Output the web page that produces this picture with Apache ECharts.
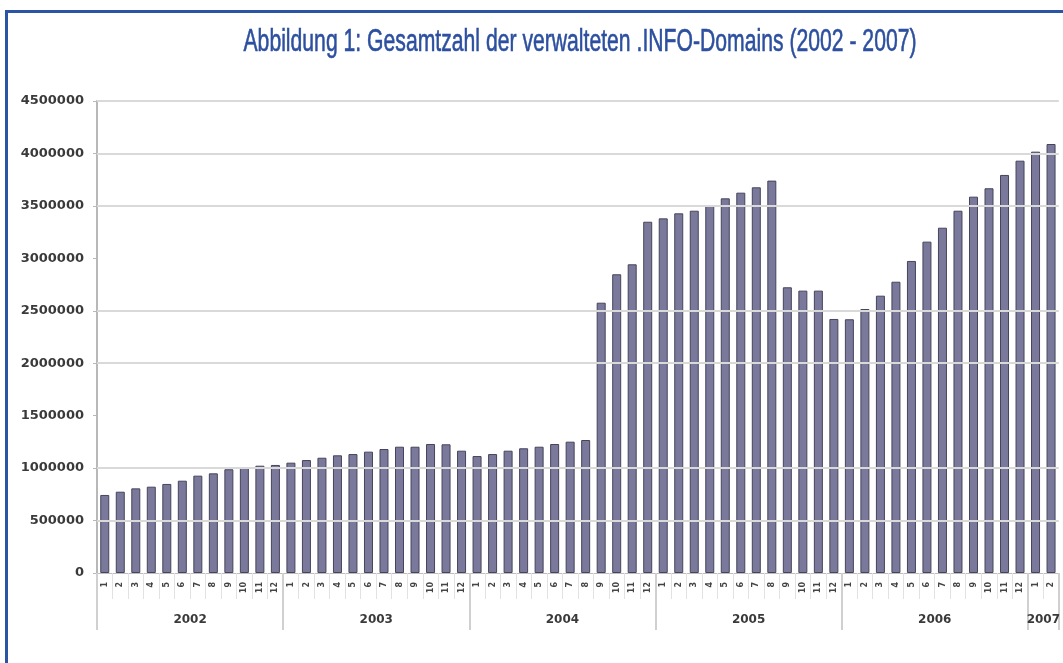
<!DOCTYPE html>
<html>
<head>
<meta charset="utf-8">
<script src="https://cdn.jsdelivr.net/npm/echarts@6/dist/echarts.min.js"></script>
<style>
  html, body { margin: 0; padding: 0; background: #ffffff; }
  #wrap { position: relative; width: 1063px; height: 663px; overflow: hidden; }
  #chart { position: absolute; left: 0; top: 0; width: 1063px; height: 663px; }
  #frame { position: absolute; left: 5px; top: 10px; width: 1100px; height: 700px;
           border-top: 3px solid #2b55a4; border-left: 3px solid #2b55a4; pointer-events: none; }
</style>
</head>
<body>
<div id="wrap">
  <div id="chart"></div>
  <div id="frame"></div>
</div>
<script>
// ---- data ----
const titleText = 'Abbildung 1: Gesamtzahl der verwalteten .INFO-Domains (2002 - 2007)';
const years = ['2002', '2003', '2004', '2005', '2006', '2007'];
const monthsPerYear = [12, 12, 12, 12, 12, 2];
const monthNames = ['1', '2', '3', '4', '5', '6', '7', '8', '9', '10', '11', '12'];
// horizontal gridlines visible in the reference (no line at 1500000 or 3000000)
const gridValues = [500000, 1000000, 2000000, 2500000, 3500000, 4000000, 4500000];
const values2002 = [744000, 775000, 807000, 823000, 849000, 880000, 928000, 950000, 989000, 1004000, 1023000, 1030000];
const values2003 = [1052000, 1077000, 1099000, 1122000, 1134000, 1157000, 1182000, 1204000, 1204000, 1230000, 1227000, 1166000];
const values2004 = [1115000, 1134000, 1166000, 1189000, 1204000, 1230000, 1252000, 1268000, 2577000, 2848000, 2943000, 3349000];
const values2005 = [3381000, 3429000, 3454000, 3502000, 3572000, 3626000, 3677000, 3741000, 2724000, 2692000, 2692000, 2422000];
const values2006 = [2419000, 2517000, 2644000, 2777000, 2975000, 3159000, 3292000, 3454000, 3588000, 3668000, 3795000, 3931000];
const values2007 = [4017000, 4090000];

// ---- build categories ----
const monthCats = [];
const yearCats = [];
years.forEach((y, yi) => {
  for (let m = 0; m < monthsPerYear[yi]; m++) {
    monthCats.push(monthNames[m]);
    yearCats.push(y);
  }
});
const values = [].concat(values2002, values2003, values2004, values2005, values2006, values2007);

const yearStart = [];
let acc = 0;
monthsPerYear.forEach(n => { yearStart.push(acc); acc += n; });
const yearLabelIdx = new Set(yearStart.map((s, i) => s + monthsPerYear[i] / 2 - 1));
const yearStartIdx = new Set(yearStart);

// measure title to fit a condensed look
const mc = document.createElement('canvas').getContext('2d');
const titleFont = '31px "Liberation Sans Narrow", "Liberation Sans", sans-serif';
mc.font = titleFont;
const tw = mc.measureText(titleText).width;
const titleScale = 673 / tw;

const chart = echarts.init(document.getElementById('chart'), null, { renderer: 'canvas' });
const catW = (1063 - 97) / monthCats.length;

chart.setOption({
  backgroundColor: '#ffffff',
  animation: false,
  graphic: [{
    type: 'text',
    x: 580, y: 42,
    scaleX: titleScale,
    style: {
      text: titleText,
      font: titleFont,
      fill: '#2c4f9f',
      align: 'center',
      verticalAlign: 'middle',
      stroke: '#2c4f9f',
      lineWidth: 0.6
    }
  }],
  grid: { left: 97, right: 0, top: 101, bottom: 90, containLabel: false },
  xAxis: [{
    type: 'category',
    data: monthCats,
    position: 'bottom',
    axisLine: { show: true, lineStyle: { color: '#bdbdbd', width: 1 } },
    axisTick: { show: true, interval: 0, length: 26, lineStyle: { color: '#e2e2e2', width: 1 } },
    axisLabel: { interval: 0, rotate: 90, fontSize: 8, fontFamily: 'DejaVu Sans', fontWeight: 'bold', color: '#444', margin: 9 },
    splitLine: { show: false }
  }, {
    type: 'category',
    data: yearCats,
    position: 'bottom',
    axisLine: { show: false },
    axisTick: {
      show: true, length: 57,
      interval: (i) => yearStartIdx.has(i),
      lineStyle: { color: '#d0d0d0', width: 2 }
    },
    axisLabel: {
      interval: (i) => yearLabelIdx.has(i),
      fontSize: 12, fontFamily: 'DejaVu Sans', fontWeight: 'bold', color: '#3a3a3a',
      margin: 41,
      padding: [0, 0, 0, catW]
    },
    splitLine: { show: false }
  }],
  yAxis: {
    type: 'value',
    min: 0, max: 4500000, interval: 500000,
    axisLine: { show: true, lineStyle: { color: '#b8b8b8', width: 2 } },
    axisTick: { show: true, length: 4, lineStyle: { color: '#b8b8b8' } },
    axisLabel: { fontSize: 13, fontFamily: 'DejaVu Sans', fontWeight: 'bold', color: '#3a3a3a', margin: 13,
                 formatter: (v) => String(v) },
    splitLine: { show: false }
  },
  series: [{
    type: 'line',
    data: [],
    z: 0,
    silent: true,
    markLine: {
      silent: true,
      symbol: 'none',
      label: { show: false },
      lineStyle: { color: '#d9d9d9', width: 2, type: 'solid' },
      data: gridValues.map(v => ({ yAxis: v }))
    }
  }, {
    type: 'bar',
    xAxisIndex: 0,
    data: values,
    barWidth: 9,
    z: 2,
    itemStyle: { color: '#7a799c', borderColor: '#45445a', borderWidth: 1 }
  }]
});
</script>
</body>
</html>
